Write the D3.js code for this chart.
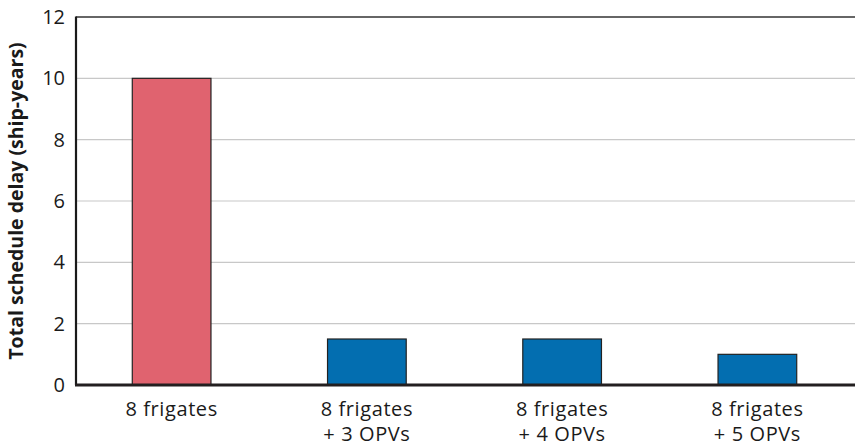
<!DOCTYPE html>
<html><head><meta charset="utf-8">
<script src="https://cdn.jsdelivr.net/npm/d3@7"></script>
<style>body{margin:0;background:#fff}svg{display:block;font-family:"Open Sans","Noto Sans",sans-serif}</style>
</head><body><svg id="c" width="855" height="445"></svg>
<script>
const categories = [["8 frigates"], ["8 frigates", "+ 3 OPVs"], ["8 frigates", "+ 4 OPVs"], ["8 frigates", "+ 5 OPVs"]];
const values = [10, 1.5, 1.5, 1.0];
const barColors = ["#e0636f", "#036eb0"];
const yTicks = [0, 2, 4, 6, 8, 10, 12];
const yTitle = "Total schedule delay (ship-years)";

const svg = d3.select("#c");
const L = 76, R = 855, T = 17, B = 385;
const x = d3.scalePoint().domain(d3.range(categories.length)).range([L - 2, R]).padding(0.5);
const y = d3.scaleLinear().domain([0, 12]).range([B, T]);
const bw = x.step() * 0.403;

// gridlines
svg.append("g").selectAll("line").data(yTicks.filter(d => d > 0 && d < 12)).join("line")
  .attr("x1", L).attr("x2", R).attr("y1", d => y(d)).attr("y2", d => y(d))
  .attr("stroke", "#c8c8c8").attr("stroke-width", 1.2);
// top line
svg.append("line").attr("x1", L).attr("x2", R).attr("y1", y(12)).attr("y2", y(12))
  .attr("stroke", "#333").attr("stroke-width", 1.3);

// bars
svg.append("g").selectAll("rect").data(values).join("rect")
  .attr("x", (d, i) => x(i) - bw / 2).attr("width", bw)
  .attr("y", d => y(d)).attr("height", d => B - y(d))
  .attr("fill", (d, i) => i === 0 ? barColors[0] : barColors[1])
  .attr("stroke", "#222").attr("stroke-width", 1.2);

// axes lines
svg.append("line").attr("x1", L).attr("x2", L).attr("y1", T - 0.5).attr("y2", B)
  .attr("stroke", "#1a1a1a").attr("stroke-width", 2.2);
svg.append("line").attr("x1", L - 1).attr("x2", R).attr("y1", B).attr("y2", B)
  .attr("stroke", "#231f20").attr("stroke-width", 3.2);

// y tick labels via axis
const ya = svg.append("g").attr("transform", `translate(${L},0)`)
  .call(d3.axisLeft(y).tickValues(yTicks).tickSize(0).tickPadding(11).tickFormat(d3.format("d")));
ya.select(".domain").remove();
ya.attr("font-size", null).attr("font-family", null);
ya.selectAll("text").attr("font-size", 20).attr("fill", "#1a1a1a").attr("dy", "0.33em");

// y title
svg.append("text").attr("transform", `translate(23,${(T + B) / 2}) rotate(-90)`)
  .attr("text-anchor", "middle").attr("font-size", 19.5).attr("font-weight", "bold").attr("fill", "#1a1a1a")
  .text(yTitle);

// category labels
const cg = svg.append("g").selectAll("text").data(categories).join("text")
  .attr("text-anchor", "middle").attr("font-size", 20).attr("letter-spacing", 0.6).attr("fill", "#1a1a1a");
cg.selectAll("tspan").data((d, i) => d.map(t => ({t, i}))).join("tspan")
  .attr("x", d => x(d.i)).attr("y", (d, j) => 415.5 + j * 25).text(d => d.t);
</script></body></html>
